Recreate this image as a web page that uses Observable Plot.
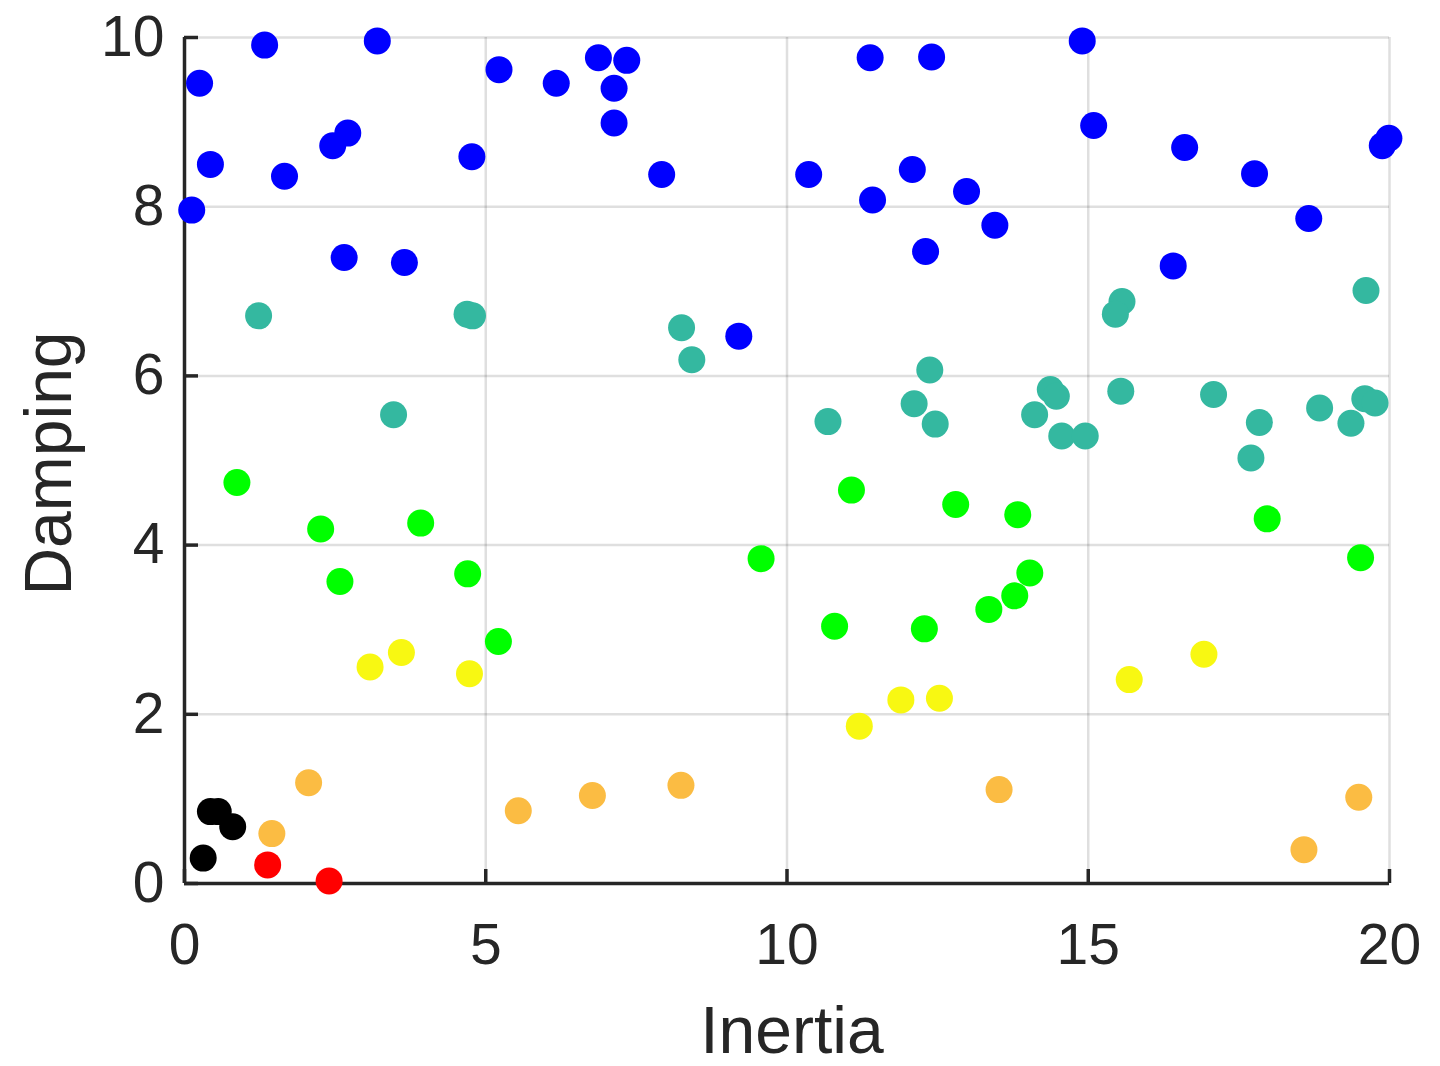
<!DOCTYPE html>
<html>
<head>
<meta charset="utf-8">
<script src="https://cdn.jsdelivr.net/npm/d3@7"></script>
<script src="https://cdn.jsdelivr.net/npm/@observablehq/plot@0.6"></script>
<style>
  html, body { margin: 0; padding: 0; background: #ffffff; }
  #chart svg { display: block; }
</style>
</head>
<body>
<div id="chart"></div>
<script>
// Inertia / damping samples, grouped into seven clusters
const clusterNames = ["cluster 1", "cluster 2", "cluster 3", "cluster 4", "cluster 5", "cluster 6", "cluster 7"];
const clusterColors = ["#0000FF", "#34B8A0", "#00FF00", "#F8F812", "#FBBC43", "#FF0000", "#000000"];

const blueInertia = [0.25, 1.33, 0.43, 0.12, 1.66, 2.46, 2.71, 3.20, 4.77, 5.22, 6.17, 2.65, 3.65,
  6.87, 7.34, 7.13, 7.13, 7.92, 11.38, 12.40, 10.36, 12.08, 11.42, 12.98, 13.45, 12.30, 9.20,
  14.90, 15.09, 16.60, 17.76, 19.88, 19.99, 18.66, 16.41];
const blueDamping = [9.46, 9.91, 8.50, 7.96, 8.36, 8.72, 8.87, 9.96, 8.59, 9.62, 9.46, 7.40, 7.34,
  9.76, 9.73, 9.40, 8.99, 8.38, 9.76, 9.77, 8.38, 8.44, 8.08, 8.18, 7.78, 7.47, 6.47,
  9.96, 8.96, 8.70, 8.39, 8.72, 8.81, 7.86, 7.30];

const tealInertia = [1.23, 4.69, 4.78, 3.47, 8.25, 8.42, 12.37, 12.11, 12.46, 10.68,
  15.56, 15.45, 19.61, 14.37, 14.47, 14.11, 14.56, 14.95, 15.54, 17.08, 17.84, 17.70, 18.84, 19.36, 19.59, 19.76];
const tealDamping = [6.71, 6.73, 6.71, 5.54, 6.57, 6.19, 6.07, 5.67, 5.43, 5.46,
  6.88, 6.73, 7.01, 5.84, 5.76, 5.54, 5.29, 5.29, 5.82, 5.78, 5.45, 5.03, 5.62, 5.44, 5.73, 5.68];

const greenInertia = [0.87, 2.26, 3.92, 2.58, 4.70, 5.21, 11.07, 12.80, 9.57, 10.79, 12.28, 13.35,
  13.83, 14.03, 13.78, 17.97, 19.52];
const greenDamping = [4.74, 4.19, 4.26, 3.57, 3.66, 2.86, 4.65, 4.48, 3.84, 3.04, 3.01, 3.24,
  4.36, 3.67, 3.40, 4.31, 3.85];

const yellowInertia = [3.08, 3.60, 4.73, 11.20, 11.89, 12.53, 15.68, 16.92];
const yellowDamping = [2.56, 2.73, 2.48, 1.86, 2.17, 2.19, 2.41, 2.71];

const orangeInertia = [2.06, 1.45, 5.54, 6.77, 8.24, 13.52, 19.49, 18.58];
const orangeDamping = [1.19, 0.59, 0.86, 1.04, 1.16, 1.11, 1.02, 0.40];

const redInertia = [1.38, 2.40];
const redDamping = [0.22, 0.03];

const blackInertia = [0.43, 0.56, 0.80, 0.31];
const blackDamping = [0.85, 0.85, 0.67, 0.30];

// Axis ticks and titles
const xTicks = [0, 5, 10, 15, 20];
const yTicks = [0, 2, 4, 6, 8, 10];
const xTitle = "Inertia";
const yTitle = "Damping";

// Flatten the cluster arrays into one table for the dot mark
const clusterSeries = [
  [blueInertia, blueDamping],
  [tealInertia, tealDamping],
  [greenInertia, greenDamping],
  [yellowInertia, yellowDamping],
  [orangeInertia, orangeDamping],
  [redInertia, redDamping],
  [blackInertia, blackDamping]
];
const samples = clusterSeries.flatMap(([xs, ys], k) =>
  xs.map((x, i) => ({inertia: x, damping: ys[i], cluster: clusterNames[k]}))
);

const ink = "#262626";
const font = "'Liberation Sans', Arial, Helvetica, sans-serif";

const chart = Plot.plot({
  width: 1440,
  height: 1066,
  marginLeft: 184,
  marginRight: 51,
  marginTop: 37,
  marginBottom: 183,
  style: {fontFamily: font, fontSize: "57px", color: ink, background: "#ffffff", overflow: "visible"},
  x: {domain: [0, 20], axis: null},
  y: {domain: [0, 10], axis: null},
  color: {domain: clusterNames, range: clusterColors},
  marks: [
    // light grid
    Plot.gridX(xTicks, {stroke: ink, strokeOpacity: 0.15, strokeWidth: 2.5}),
    Plot.gridY(yTicks, {stroke: ink, strokeOpacity: 0.15, strokeWidth: 2.5}),
    // axis lines
    Plot.ruleX([0], {stroke: ink, strokeWidth: 3.5}),
    Plot.ruleY([0], {stroke: ink, strokeWidth: 3.5}),
    // inward tick marks
    Plot.axisX(xTicks, {anchor: "bottom", tickSize: -14, fill: "none", stroke: ink, strokeWidth: 3.5, label: null}),
    Plot.axisY(yTicks, {anchor: "left", tickSize: -14, fill: "none", stroke: ink, strokeWidth: 3.5, label: null}),
    // tick labels
    Plot.axisX(xTicks, {anchor: "bottom", tickSize: 0, tickPadding: 40, fill: ink, fontSize: 57, label: null, tickFormat: d => String(d)}),
    Plot.axisY(yTicks, {anchor: "left", tickSize: 0, tickPadding: 20, fill: ink, fontSize: 57, label: null, tickFormat: d => String(d)}),
    // axis titles
    Plot.text([xTitle], {frameAnchor: "bottom", dx: 5, dy: 148, fontSize: 66, fill: ink, lineAnchor: "middle", textAnchor: "middle"}),
    Plot.text([yTitle], {frameAnchor: "left", dx: -135, dy: 3, rotate: -90, fontSize: 66, fill: ink, lineAnchor: "middle", textAnchor: "middle"}),
    // samples
    Plot.dot(samples, {x: "inertia", y: "damping", fill: "cluster", r: 13.5, stroke: "none"})
  ]
});

document.getElementById("chart").appendChild(chart);
</script>
</body>
</html>
